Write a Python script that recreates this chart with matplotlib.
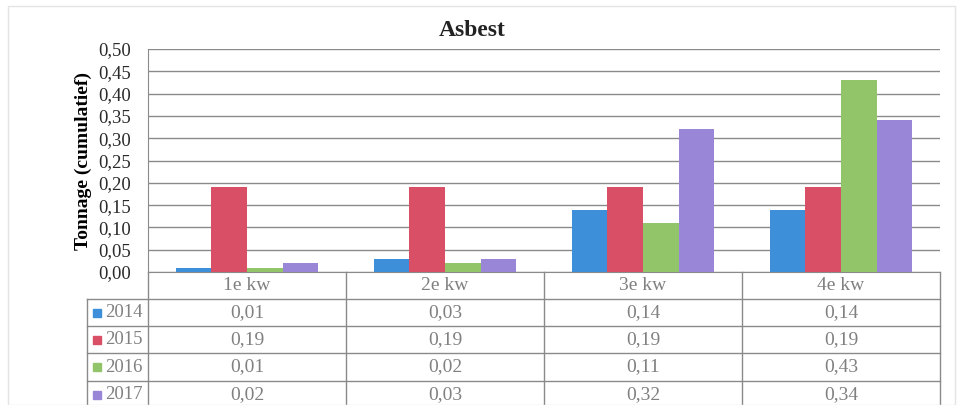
import matplotlib.pyplot as plt
import matplotlib.transforms as mtransforms
from matplotlib.patches import Rectangle

# data (gelezen uit de figuur)
kwartalen = ['1e kw', '2e kw', '3e kw', '4e kw']
jaren = ['2014', '2015', '2016', '2017']
waarden_2014 = [0.01, 0.03, 0.14, 0.14]
waarden_2015 = [0.19, 0.19, 0.19, 0.19]
waarden_2016 = [0.01, 0.02, 0.11, 0.43]
waarden_2017 = [0.02, 0.03, 0.32, 0.34]
yticks = [0.00, 0.05, 0.10, 0.15, 0.20, 0.25, 0.30, 0.35, 0.40, 0.45, 0.50]

series = [waarden_2014, waarden_2015, waarden_2016, waarden_2017]
kleuren = ['#3d8fd9', '#d94f66', '#92c46a', '#9a86d6']

plt.rcParams['font.family'] = ['Liberation Serif', 'DejaVu Serif']

fig = plt.figure(figsize=(9.6, 4.05), dpi=100)
W, H = 960, 405
ax = fig.add_axes([148 / W, 1 - 272 / H, (940 - 148) / W, (272 - 49) / H])

# faint outer border of the scanned chart
fig.patches.append(Rectangle((8 / W, 0), (955 - 8) / W, 1 - 6 / H,
                             transform=fig.transFigure, fill=False,
                             edgecolor='#e4e4e4', linewidth=1))

bw = 0.18
for j, vals in enumerate(series):
    xs = [i + (j - 1.5) * bw for i in range(len(kwartalen))]
    ax.bar(xs, vals, width=bw, color=kleuren[j], zorder=3)

ax.set_xlim(-0.5, len(kwartalen) - 0.5)
ax.set_ylim(0, 0.5)
ax.set_yticks(yticks)
ax.set_yticklabels([f'{t:.2f}'.replace('.', ',') for t in yticks])
ax.set_xticks([])
ax.tick_params(axis='y', length=0, pad=12, labelsize=13.5, labelcolor='#2a2a2a')
ax.grid(axis='y', color='#8a8a8a', linewidth=1, zorder=0)
for s in ['top', 'right']:
    ax.spines[s].set_visible(False)
ax.spines['left'].set_color('#8a8a8a')
ax.spines['bottom'].set_color('#8a8a8a')

# titel staat gecentreerd op de figuur, niet op de assen
fig.text(472 / W, 1 - 30 / H, 'Asbest', fontsize=17, fontweight='bold',
         ha='center', va='center', color='#222222')
ax.set_ylabel('Tonnage (cumulatief)', fontsize=14, fontweight='bold', labelpad=5)

# data table below the chart
trans = mtransforms.blended_transform_factory(ax.transData, ax.transAxes)
ah = 272 - 49
def ypx(y):
    return (272 - y) / ah

rij_grenzen = [272, 299, 326, 353, 381, 408]
leg_x = -0.5 + (87 - 148) / 198
lijn = dict(color='#8a8a8a', linewidth=1, transform=trans, clip_on=False)

for k in range(len(kwartalen) + 1):
    ax.plot([k - 0.5, k - 0.5], [0, ypx(405)], **lijn)
ax.plot([leg_x, leg_x], [ypx(rij_grenzen[1]), ypx(405)], **lijn)
for y in rij_grenzen[1:-1]:
    ax.plot([leg_x, len(kwartalen) - 0.5], [ypx(y), ypx(y)], **lijn)

tekst = dict(transform=trans, ha='center', va='center', fontsize=14,
             color='#808080', clip_on=False)
hy = ypx((rij_grenzen[0] + rij_grenzen[1]) / 2)
for i, kw in enumerate(kwartalen):
    ax.text(i, hy, kw, **tekst)

for j, (jaar, vals) in enumerate(zip(jaren, series)):
    ry = ypx((rij_grenzen[j + 1] + rij_grenzen[j + 2]) / 2)
    for i, v in enumerate(vals):
        ax.text(i, ry, f'{v:.2f}'.replace('.', ','), **tekst)
    ax.text(-0.5 - 5 / 198, ry, jaar, transform=trans, ha='right', va='center',
            fontsize=13.5, color='#808080', clip_on=False)
    ax.add_patch(Rectangle((leg_x + 6 / 198, ry - 4 / ah), 8 / 198, 8 / ah,
                           transform=trans, color=kleuren[j], clip_on=False))

fig.savefig('out.png', dpi=100)
